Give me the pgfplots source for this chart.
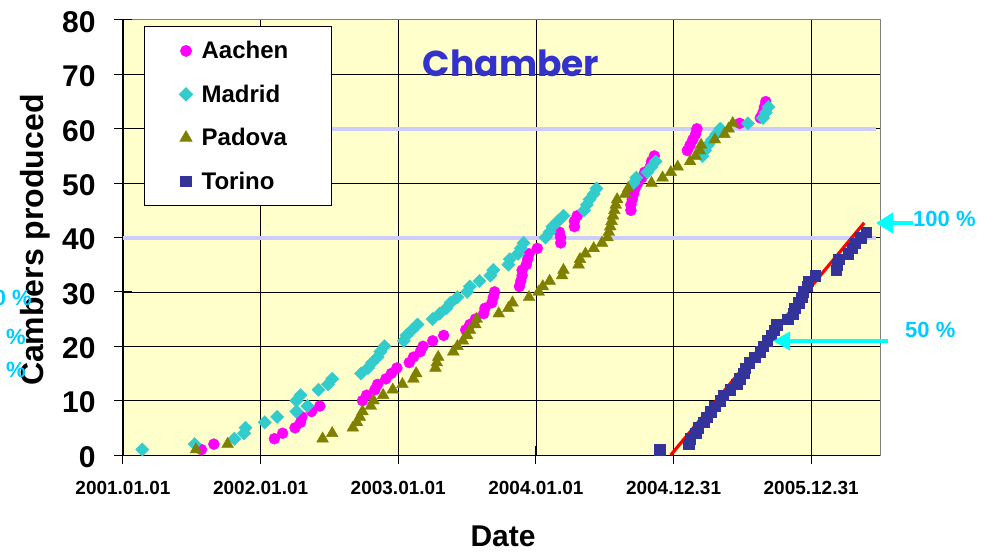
\documentclass[border=0pt]{standalone}
\usepackage{fontspec}
\setmainfont{Liberation Sans}
\newfontfamily\titlefont{Poppins}
\usepackage{pgfplots}
\pgfplotsset{compat=1.18}
\usetikzlibrary{arrows.meta}

\definecolor{bgyellow}{RGB}{255,255,204}
\definecolor{aachen}{RGB}{255,0,255}
\definecolor{madrid}{RGB}{51,204,204}
\definecolor{padova}{RGB}{128,128,0}
\definecolor{torino}{RGB}{51,51,153}
\definecolor{lav}{RGB}{204,204,255}
\definecolor{arrowcyan}{RGB}{0,255,255}
\definecolor{pcttext}{RGB}{0,204,255}
\definecolor{titleblue}{RGB}{51,51,204}

\begin{document}
\begin{tikzpicture}[x=1pt,y=1pt]
\useasboundingbox (0,0) rectangle (995,552);

\begin{axis}[
  at={(123pt,97pt)}, anchor=south west,
  scale only axis, width=757pt, height=435pt,
  xmin=0, xmax=5.5, ymin=0, ymax=80,
  clip=false,
  axis lines=left,
  axis line style={-, black, line width=1pt},
  axis background/.style={fill=bgyellow, draw=gray, line width=1pt},
  grid=major,
  grid style={black, line width=0.7pt},
  tick align=center, major tick length=18pt,
  tick style={black, line width=1pt},
  xtick={0,1,2,3,4,5},
  xticklabels={2001.01.01,2002.01.01,2003.01.01,2004.01.01,2004.12.31,2005.12.31},
  ytick={0,10,...,70},
  extra y ticks={80}, extra y tick style={grid=none},
  /pgf/number format/assume math mode=true,
  yticklabel style={font=\fontsize{30}{30}\selectfont\bfseries, xshift=-15pt, yshift=-2pt},
  xticklabel style={font=\fontsize{19}{19}\selectfont\bfseries, yshift=-14pt},
  ylabel={Cambers produced},
  ylabel style={font=\fontsize{32}{32}\selectfont\bfseries, at={(axis description cs:-0.116,0.494)}, anchor=center},
  xlabel={Date},
  xlabel style={font=\fontsize{30}{30}\selectfont\bfseries, at={(axis description cs:0.502,-0.187)}, anchor=center},
  legend cell align=left,
  legend image code/.code={\draw[mark repeat=2,mark phase=2,#1] plot coordinates {(0pt,0pt)(8pt,0pt)(16pt,0pt)};},
  legend style={at={(0.0277,0.986)}, anchor=north west, draw=black, line width=0.8pt, fill=white,
    font=\fontsize{24}{24}\selectfont\bfseries,
    inner xsep=35pt, inner ysep=13pt, row sep=20.5pt, column sep=7pt},
]

\addplot[only marks, mark=*, color=aachen, mark size=5.5pt] coordinates {
(0.57,1)(0.66,2)(1.10,3)(1.16,4)(1.25,5)(1.29,6)(1.30,7)(1.37,8)(1.43,9)
(1.74,10)(1.77,11)(1.83,12)(1.85,13)(1.91,14)(1.95,15)(1.99,16)(2.08,17)
(2.11,18)(2.16,19)(2.18,20)(2.25,21)(2.33,22)(2.49,23)(2.52,24)(2.56,25)
(2.62,26)(2.63,27)(2.68,28)(2.69,29)(2.70,30)(2.88,31)(2.89,32)(2.90,33)
(2.90,34)(2.93,35)(2.94,36)(2.95,37)(3.01,38)(3.18,39)(3.18,40)(3.17,41)
(3.28,42)(3.28,43)(3.30,44)(3.69,45)(3.69,46)(3.70,47)(3.71,48)(3.72,49)
(3.74,50)(3.77,51)(3.79,52)(3.83,53)(3.84,54)(3.86,55)(4.10,56)(4.12,57)
(4.14,58)(4.16,59)(4.17,60)(4.48,61)(4.63,62)(4.65,63)(4.66,64)(4.67,65)
};
\addlegendentry{\makebox[93pt][l]{Aachen}}

\addplot[only marks, mark=square*, mark options={rotate=45}, color=madrid, mark size=4.7pt] coordinates {
(0.14,1)(0.52,2)(0.81,3)(0.88,4)(0.89,5)(1.03,6)(1.12,7)(1.26,8)(1.34,9)
(1.26,10)(1.29,11)(1.42,12)(1.49,13)(1.52,14)(1.73,15)(1.78,16)(1.81,17)
(1.85,18)(1.87,19)(1.90,20)(2.04,21)(2.06,22)(2.10,23)(2.14,24)(2.25,25)
(2.30,26)(2.35,27)(2.38,28)(2.43,29)(2.50,30)(2.52,31)(2.59,32)(2.67,33)
(2.69,34)(2.80,35)(2.81,36)(2.87,37)(2.89,38)(2.91,39)(3.07,40)(3.10,41)
(3.12,42)(3.16,43)(3.20,44)(3.35,45)(3.37,46)(3.39,47)(3.42,48)(3.44,49)
(3.71,50)(3.73,51)(3.81,52)(3.84,53)(3.87,54)(4.21,55)(4.23,56)(4.25,57)
(4.28,58)(4.31,59)(4.34,60)(4.54,61)(4.65,62)(4.67,63)(4.69,64)
};
\addlegendentry{Madrid}

\addplot[only marks, mark=triangle*, color=padova, mark size=6.8pt] coordinates {
(0.53,1)(0.76,2)(1.45,3)(1.52,4)(1.67,5)(1.70,6)(1.72,7)(1.74,8)(1.80,9)
(1.82,10)(1.89,11)(1.96,12)(2.03,13)(2.11,14)(2.13,15)(2.27,16)(2.28,17)
(2.29,18)(2.40,19)(2.43,20)(2.47,21)(2.50,22)(2.52,23)(2.56,24)(2.57,25)
(2.73,26)(2.80,27)(2.83,28)(2.95,29)(3.02,30)(3.05,31)(3.10,32)(3.19,33)
(3.20,34)(3.31,35)(3.32,36)(3.36,37)(3.42,38)(3.48,39)(3.52,40)(3.53,41)
(3.54,42)(3.55,43)(3.56,44)(3.57,45)(3.58,46)(3.59,47)(3.65,48)(3.67,49)
(3.84,50)(3.92,51)(3.98,52)(4.03,53)(4.12,54)(4.16,55)(4.19,56)(4.20,57)
(4.30,58)(4.37,59)(4.40,60)(4.43,61)
};
\addlegendentry{Padova}

\addplot[only marks, mark=square*, color=torino, mark size=5.2pt] coordinates {
(3.90,1)(4.11,2)(4.12,3)(4.16,4)(4.18,5)(4.22,6)(4.24,7)(4.27,8)(4.30,9)
(4.34,10)(4.36,11)(4.41,12)(4.46,13)(4.48,14)(4.51,15)(4.52,16)(4.55,17)
(4.59,18)(4.63,19)(4.65,20)(4.68,21)(4.71,22)(4.73,23)(4.75,24)(4.83,25)
(4.87,26)(4.88,27)(4.91,28)(4.93,29)(4.94,30)(4.97,31)(4.98,32)(5.03,33)
(5.18,34)(5.19,35)(5.20,36)(5.27,37)(5.30,38)(5.32,39)(5.36,40)(5.40,41)
};
\addlegendentry{Torino}

% target lines and fit
\addplot[lav, line width=4pt, forget plot] coordinates {(1.43,60)(5.47,60)};
\addplot[lav, line width=4pt, forget plot] coordinates {(0,40)(5.47,40)};
\addplot[red, line width=3.2pt, forget plot] coordinates {(3.98,0)(5.385,42.7)};
\end{axis}

\node[font=\titlefont\bfseries\fontsize{36}{36}\selectfont, text=titleblue] at (511,489) {Chamber};

% percentage arrows
\draw[arrowcyan, line width=4pt, -{Triangle[length=17pt,width=20pt]}] (913,329) -- (876,329);
\draw[arrowcyan, line width=4pt, -{Triangle[length=17pt,width=18pt]}] (888,211) -- (773,211);
\node[anchor=west, inner sep=0pt, text=pcttext, font=\fontsize{22}{22}\selectfont\bfseries] at (913,333) {100 \%};
\node[anchor=west, inner sep=0pt, text=pcttext, font=\fontsize{22}{22}\selectfont\bfseries] at (905,222) {50 \%};
\node[anchor=east, inner sep=0pt, text=pcttext, font=\fontsize{22}{22}\selectfont\bfseries] at (32,254) {100 \%};
\node[anchor=east, inner sep=0pt, text=pcttext, font=\fontsize{22}{22}\selectfont\bfseries] at (26,215) {50 \%};
\node[anchor=east, inner sep=0pt, text=pcttext, font=\fontsize{22}{22}\selectfont\bfseries] at (26,182) {0 \%};
\end{tikzpicture}
\end{document}
